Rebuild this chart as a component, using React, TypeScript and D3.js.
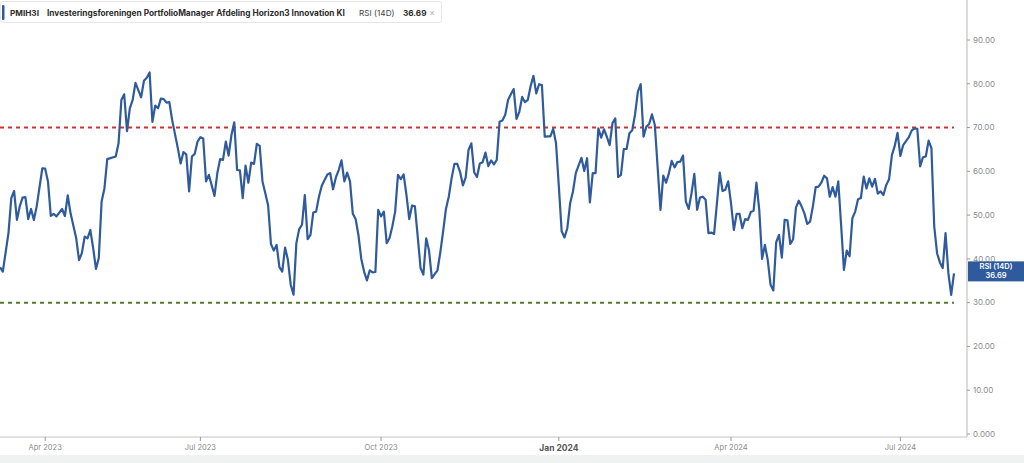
import React from "react";
import * as d3 from "d3";

// RSI (14D) per trading session, session 0 = first visible day; null = session not read
const rsi: (number | null)[] = [
  38.1, 37.1, null, 45.9, 53.9, 55.5, 48.9, 52.0, 54.0, 54.1,
  49.1, 51.4, 48.9, 52.0, null, 60.7, 60.6, 57.7, 49.8, 50.3,
  49.7, null, 51.4, 49.8, 54.5, 50.4, null, 44.7, 39.7, 41.3,
  45.1, 44.7, 46.6, 42.5, 37.7, 40.2, 53.1, 56.1, 62.8, null,
  null, 63.4, 66.4, 76.3, 77.6, 69.2, 74.4, 76.3, 80.2, null,
  76.9, 80.7, 81.4, 82.6, 71.3, 75.0, 74.4, 76.6, 76.5, 75.7,
  75.8, 71.7, null, 65.3, 61.8, 64.4, 63.9, 55.4, 63.4, 64.0,
  66.8, 67.8, 67.5, 57.7, 59.2, null, 54.4, 59.6, 62.8, 62.6,
  66.8, 63.6, 68.3, 71.2, 60.3, 60.2, 53.9, 61.3, 57.4, 62.0,
  61.7, 66.3, 65.8, 57.7, 55.0, 52.2, 43.4, 41.9, 43.2, 38.1,
  37.1, 42.6, 39.8, 34.1, 31.8, 43.6, 46.8, 47.8, 54.6, 44.5,
  45.5, 50.6, 50.8, 54.2, 56.7, 58.0, 59.3, 59.6, 55.9, 58.6,
  60.3, 62.5, 57.7, 59.7, 57.7, 50.3, 49.1, 45.4, 40.0, 37.1,
  35.1, 37.4, 36.9, 37.0, 51.2, 49.7, 50.8, 43.6, 44.7, 47.4,
  50.8, 59.2, 58.2, 59.3, 54.6, 49.1, 52.2, 52.0, 45.1, 37.9,
  36.4, 44.7, 41.9, 35.6, 36.5, 37.4, 41.5, 46.3, 51.4, 54.2,
  58.4, 61.7, 61.7, 59.9, 56.8, 58.6, 64.9, 66.4, 59.8, 58.7,
  61.8, 62.1, 64.3, 61.2, 62.5, 61.6, 62.6, 71.3, 71.6, 72.9,
  76.3, 77.6, 78.8, 72.0, 73.6, 77.0, 75.8, 76.3, 79.5, 81.8,
  77.8, 79.9, 79.7, 67.9, 68.0, 68.0, 69.7, 66.4, 56.5, 46.3,
  44.9, 47.0, 52.7, 55.4, 59.6, null, 63.1, 60.1, 63.0, 52.9,
  59.6, 59.6, 69.8, 67.7, 69.6, 67.9, 66.0, 71.0, 72.1, 58.7,
  59.2, 65.1, 65.1, 68.7, 69.4, 73.0, 78.2, 79.9, 67.9, 70.2,
  70.8, 73.0, 70.6, null, 51.2, 59.0, 57.4, 59.6, 62.4, 60.9,
  62.1, 62.2, 63.6, 53.1, 51.4, 55.0, 59.4, 51.2, 54.0, 54.2,
  53.5, 45.9, 46.0, 45.7, 52.7, 59.7, 55.5, 55.8, 57.7, 52.7,
  46.6, 50.3, 50.3, 47.0, 49.1, 48.9, 50.7, 51.0, 57.4, 51.2,
  40.0, 43.2, 39.8, 34.1, 32.8, 43.8, 45.5, 40.3, 48.9, 48.8,
  43.4, 44.5, 51.7, 53.3, 52.0, 50.4, 48.0, 48.5, 52.0, 56.4,
  56.5, 57.4, 59.0, 58.4, 54.2, 56.4, 54.2, 57.7, 47.8, 37.5,
  41.9, 40.6, 49.3, 50.8, 53.6, 53.9, 58.8, 56.1, 58.4, 56.5,
  58.3, 54.9, 55.4, 54.6, 56.9, 58.2, 63.7, 65.8, 68.8, 63.5,
  66.0, 66.9, 67.8, 69.3, 69.8, 69.7, 61.1, 63.2, 63.4, 67.0,
  65.3, 47.4, 41.3, 39.2, 37.9, 45.9, 36.8, 31.8, 36.69,
];

const monthSessions = [16, 71, 135, 198, 259, 319];
const monthLabels = ["Apr 2023", "Jul 2023", "Oct 2023", "Jan 2024", "Apr 2024", "Jul 2024"];
const yearStart = "Jan 2024";

const yTicks = [0, 10, 20, 30, 40, 50, 60, 70, 80, 90];
const overbought = 70;
const oversold = 30;

const ticker = "PMIH3I";
const fundName = "Investeringsforeningen PortfolioManager Afdeling Horizon3 Innovation KI";
const indicator = "RSI (14D)";
const lastValue = 36.69;

const W = 1024;
const H = 463;
const FONT = "Inter, 'Noto Sans', sans-serif";

export default function App() {
  const points = rsi
    .map((v, i) => [i, v] as [number, number | null])
    .filter((d) => d[1] !== null) as [number, number][];

  const x = d3.scaleLinear().domain([0, rsi.length - 1]).range([0, 954]);
  const y = d3.scaleLinear().domain([0, 90]).range([434, 40]);

  const line = d3
    .line<[number, number]>()
    .x((d) => x(d[0]))
    .y((d) => y(d[1]));

  const axisX = 967;
  const axisY = 437;
  const lineEnd = x(rsi.length - 1);

  return (
    <>
      <style>{"body{margin:0}"}</style>
      <svg width={W} height={H} style={{ display: "block", fontFamily: FONT }}>
        <rect width={W} height={H} fill="#fff" />
        <rect x={0} y={455} width={W} height={8} fill="#f0f1f1" />

        {/* header */}
        <rect x={0.5} y={1.5} width={441} height={21} fill="#fff" stroke="#e6e6e6" rx={2} />
        <rect x={2} y={5} width={2.5} height={15} fill="#2f5b9c" rx={1} />
        <text x={10} y={15.5} fontSize={8.2} fontWeight={700} fill="#2b2b2b">
          {ticker}
        </text>
        <text x={47} y={15.5} fontSize={8.3} fontWeight={700} fill="#2b2b2b">
          {fundName}
        </text>
        <text x={359} y={15.5} fontSize={8.2} fill="#444">
          {indicator}
        </text>
        <text x={403} y={15.5} fontSize={8.2} fontWeight={700} fill="#2b2b2b">
          {lastValue.toFixed(2)}
        </text>
        <text x={429} y={15.5} fontSize={9} fill="#b0b0b0">
          ×
        </text>

        {/* overbought / oversold */}
        <line x1={0} x2={lineEnd} y1={y(overbought)} y2={y(overbought)} stroke="#d2302a" strokeWidth={2} strokeDasharray="4,4" />
        <line x1={0} x2={lineEnd} y1={y(oversold)} y2={y(oversold)} stroke="#4d7c2e" strokeWidth={2} strokeDasharray="4,4" />

        {/* rsi line */}
        <path d={line(points) ?? ""} fill="none" stroke="#2f5b9c" strokeWidth={2.2} strokeLinejoin="round" />

        {/* right axis */}
        <line x1={axisX} x2={axisX} y1={0} y2={axisY} stroke="#c4c4c4" strokeWidth={1.2} />
        {yTicks.map((t) => (
          <g key={t} transform={`translate(${axisX},${y(t)})`}>
            <line x1={0} x2={3} stroke="#999" />
            <text x={6} dy="0.35em" fontSize={8} fill="#8a8a8a">
              {t === 0 ? "0.000" : t.toFixed(2)}
            </text>
          </g>
        ))}

        {/* last value tag */}
        <rect x={968} y={y(lastValue) - 12} width={56} height={20} fill="#2f5b9c" />
        <text x={996} y={y(lastValue) - 4.5} textAnchor="middle" fontSize={7.5} fontWeight={600} fill="#fff">
          {indicator}
        </text>
        <text x={996} y={y(lastValue) + 4.5} textAnchor="middle" fontSize={7.5} fontWeight={600} fill="#fff">
          {lastValue.toFixed(2)}
        </text>

        {/* bottom axis */}
        <line x1={0} x2={axisX} y1={axisY} y2={axisY} stroke="#c4c4c4" strokeWidth={1.2} />
        {monthSessions.map((s, i) => {
          const bold = monthLabels[i] === yearStart;
          return (
            <g key={s} transform={`translate(${x(s)},${axisY})`}>
              <line y1={0} y2={4} stroke="#999" />
              <text
                y={bold ? 14 : 13}
                textAnchor="middle"
                fontSize={bold ? 8.5 : 7.5}
                fontWeight={bold ? 700 : 400}
                fill={bold ? "#555" : "#8a8a8a"}
              >
                {monthLabels[i]}
              </text>
            </g>
          );
        })}
      </svg>
    </>
  );
}
